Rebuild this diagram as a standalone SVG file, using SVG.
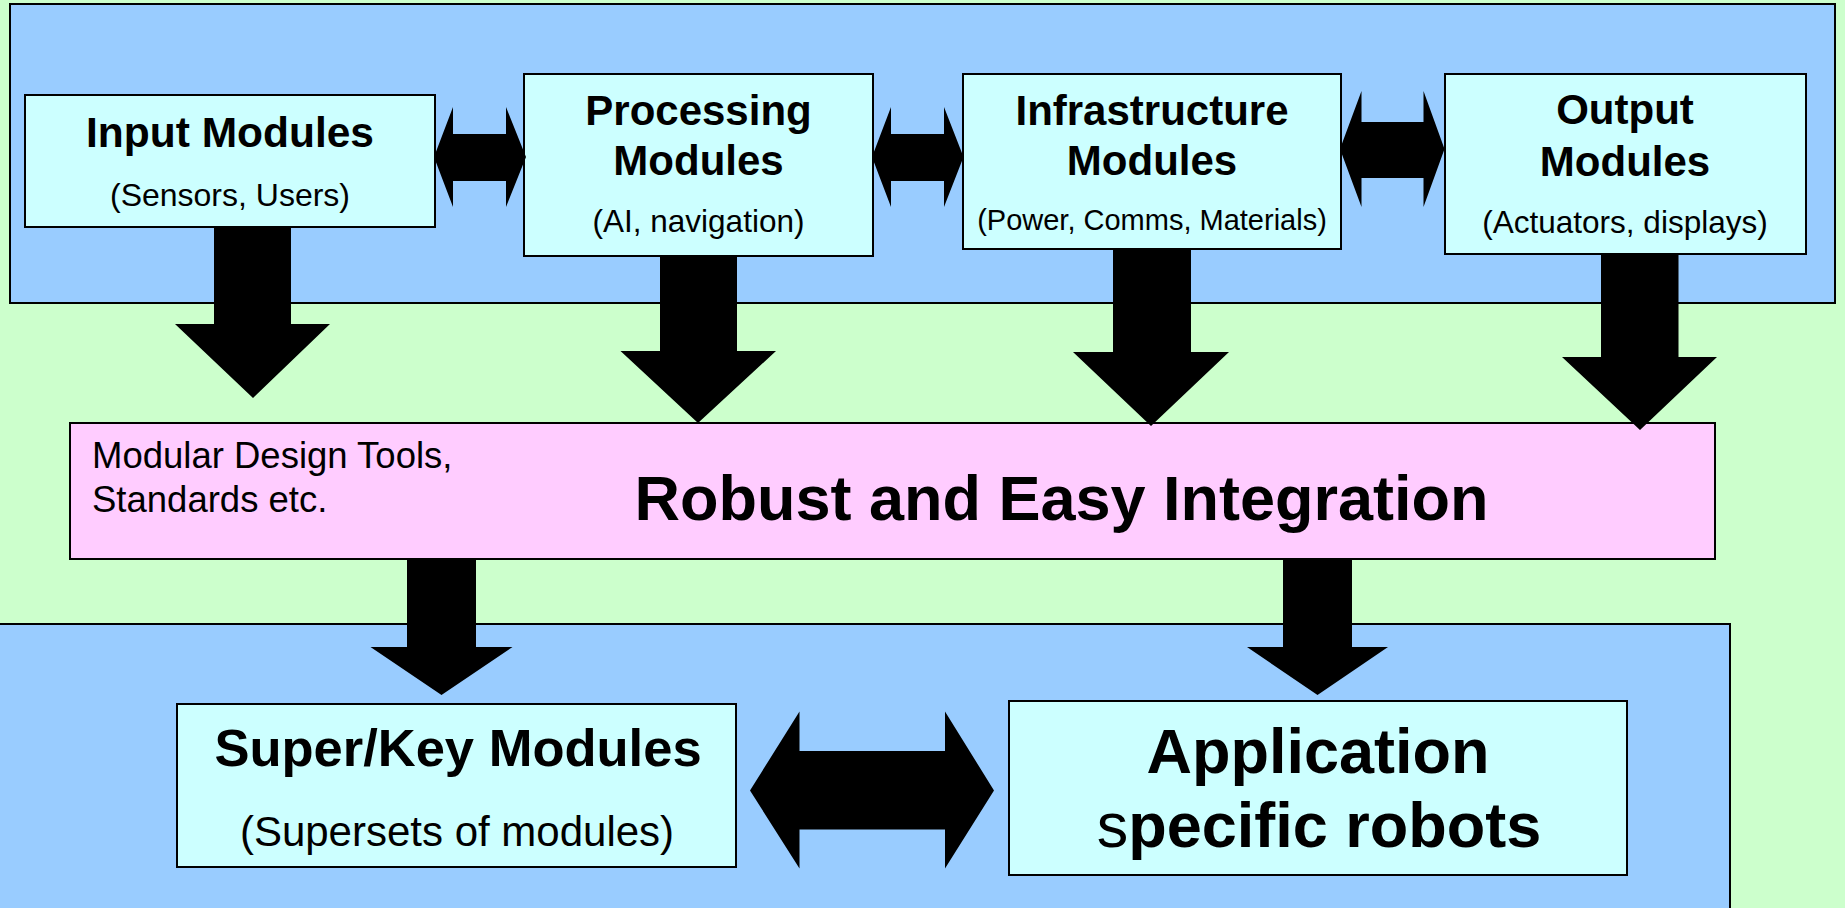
<svg xmlns="http://www.w3.org/2000/svg" width="1845" height="908" viewBox="0 0 1845 908">
<style>
.panel{fill:#99CCFF;stroke:#000;stroke-width:2}
.node{fill:#CCFFFF;stroke:#000;stroke-width:2}
.pink{fill:#FFCCFF;stroke:#000;stroke-width:2}
.arr{fill:#000;stroke:none}
text{font-family:"Liberation Sans",Arial,sans-serif;fill:#000}
.b{font-weight:bold}
.m{text-anchor:middle}
</style>
<rect x="0" y="0" width="1845" height="908" fill="#CCFFCC"/>
<rect class="panel" x="10" y="4" width="1825" height="299"/>
<rect class="panel" x="-5" y="624" width="1735" height="300"/>
<g id="input">
<rect class="node" x="25" y="95" width="410" height="132"/>
<text class="b m" x="230" y="147" font-size="42.5">Input Modules</text>
<text class="m" x="230" y="206" font-size="32">(Sensors, Users)</text>
</g>
<g id="processing">
<rect class="node" x="524" y="74" width="349" height="182"/>
<text class="b m" x="698.5" y="125" font-size="42">Processing</text>
<text class="b m" x="698.5" y="175" font-size="42">Modules</text>
<text class="m" x="698.5" y="232" font-size="31.5">(AI, navigation)</text>
</g>
<g id="infrastructure">
<rect class="node" x="963" y="74" width="378" height="175"/>
<text class="b m" x="1152" y="125" font-size="42">Infrastructure</text>
<text class="b m" x="1152" y="175" font-size="42">Modules</text>
<text class="m" x="1152" y="230" font-size="29">(Power, Comms, Materials)</text>
</g>
<g id="output">
<rect class="node" x="1445" y="74" width="361" height="180"/>
<text class="b m" x="1625" y="124" font-size="42">Output</text>
<text class="b m" x="1625" y="176" font-size="42">Modules</text>
<text class="m" x="1625" y="233" font-size="31.5">(Actuators, displays)</text>
</g>
<g id="integration">
<rect class="pink" x="70" y="423" width="1645" height="136"/>
<text x="92" y="468" font-size="36.5">Modular Design Tools,</text>
<text x="92" y="512" font-size="36.5">Standards etc.</text>
<text class="b m" x="1061.5" y="520" font-size="63">Robust and Easy Integration</text>
</g>
<g id="superkey">
<rect class="node" x="177" y="704" width="559" height="163"/>
<text class="b m" x="458" y="766" font-size="52.5">Super/Key Modules</text>
<text class="m" x="457" y="846" font-size="42">(Supersets of modules)</text>
</g>
<g id="application">
<rect class="node" x="1009" y="701" width="618" height="174"/>
<text class="b m" x="1318" y="773" font-size="63">Application</text>
<text class="b m" x="1319" y="847" font-size="63"><tspan font-weight="normal">s</tspan>pecific robots</text>
</g>
<g id="connectors">
<path class="arr" d="M214,227 H291 V324 H330 L253,398 L175,324 H214 Z"/>
<path class="arr" d="M660,256 H737 V351 H776 L698,423 L620.5,351 H660 Z"/>
<path class="arr" d="M1113,249 H1191 V352 H1229 L1151,426 L1073,352 H1113 Z"/>
<path class="arr" d="M1601,254 H1678.5 V357 H1717 L1640,430 L1562,357 H1601 Z"/>
<path class="arr" d="M407,559 H476 V647 H512.5 L441.5,695 L370.5,647 H407 Z"/>
<path class="arr" d="M1283,559 H1352 V647 H1388 L1317.5,695 L1247,647 H1283 Z"/>
<path class="arr" d="M434,157 L453,107 V134 H506 V107 L526,157 L506,207 V181 H453 V207 Z"/>
<path class="arr" d="M872,157 L891,107 V134 H944 V107 L963.5,157 L944,207 V181 H891 V207 Z"/>
<path class="arr" d="M1340,149 L1361.5,91 V122 H1423.5 V91 L1444.5,149 L1423.5,207 V178 H1361.5 V207 Z"/>
<path class="arr" d="M750,790.5 L799.5,711.5 V751 H945 V711.5 L994,790.5 L945,868.5 V829.5 H799.5 V868.5 Z"/>
</g>
</svg>
